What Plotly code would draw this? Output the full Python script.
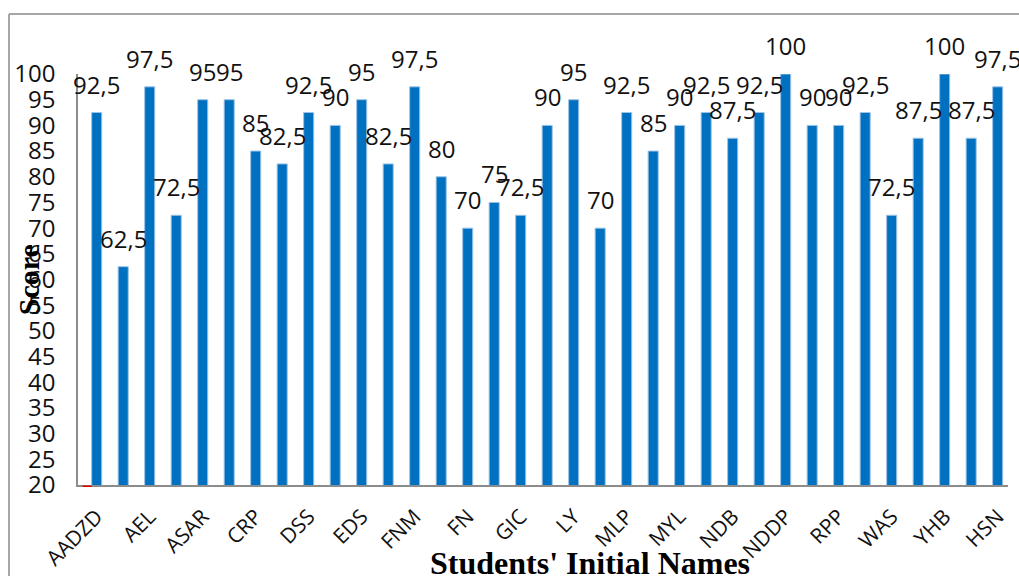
import plotly.graph_objects as go

# Scores for each student, in display order
scores = [92.5, 62.5, 97.5, 72.5, 95, 95, 85, 82.5, 92.5, 90, 95, 82.5,
          97.5, 80, 70, 75, 72.5, 90, 95, 70, 92.5, 85, 90, 92.5, 87.5,
          92.5, 100, 90, 90, 92.5, 72.5, 87.5, 100, 87.5, 97.5]

# Initial names shown under every second bar
tick_labels = ["AADZD", "AEL", "ASAR", "CRP", "DSS", "EDS", "FNM", "FN", "GIC",
               "LY", "MLP", "MYL", "NDB", "NDDP", "RPP", "WAS", "YHB", "HSN"]

y_ticks = list(range(20, 101, 5))

positions = list(range(len(scores)))
label_text = [f"{v:g}".replace(".", ",") for v in scores]

SANS = "Open Sans, Calibri, Carlito, sans-serif"
SERIF = "Liberation Serif, Times New Roman, serif"
AXIS_GRAY = "#8C8C8C"

fig = go.Figure(
    go.Bar(
        x=positions,
        y=scores,
        marker=dict(color="#0070C0", line=dict(color="#9DC3E6", width=1)),
        hoverinfo="x+y",
    )
)

# value labels sit a little above each bar
value_labels = [
    dict(
        x=xi, y=yi, xref="x", yref="y",
        text=t,
        showarrow=False,
        xanchor="center", yanchor="bottom",
        yshift=10,
        font=dict(family=SANS, size=24, color="#111111"),
    )
    for xi, yi, t in zip(positions, scores, label_text)
]

axis_titles = [
    dict(
        text="<b>Students' Initial Names</b>",
        xref="paper", yref="paper",
        x=0.55, y=-0.19,
        xanchor="center", yanchor="middle",
        showarrow=False,
        font=dict(family=SERIF, size=32, color="#000000"),
    ),
    dict(
        text="<b>Score</b>",
        xref="paper", yref="paper",
        x=-0.053, y=0.5,
        xanchor="center", yanchor="middle",
        textangle=-90,
        showarrow=False,
        font=dict(family=SERIF, size=30, color="#000000"),
    ),
]

fig.update_layout(
    width=1019,
    height=576,
    margin=dict(l=78, r=11, t=74, b=91, autoexpand=False),
    paper_bgcolor="white",
    plot_bgcolor="white",
    showlegend=False,
    bargap=0.62,
    xaxis=dict(
        range=[-0.706, 34.39],
        tickmode="array",
        tickvals=positions[::2],
        ticktext=tick_labels,
        tickangle=-45,
        tickfont=dict(family=SANS, size=21, color="#111111"),
        showline=True,
        linecolor=AXIS_GRAY,
        linewidth=2,
        showgrid=False,
        zeroline=False,
        ticks="",
        ticklabelstandoff=9,
        automargin=False,
    ),
    yaxis=dict(
        range=[20, 100],
        tickmode="array",
        tickvals=y_ticks,
        tickfont=dict(family=SANS, size=24, color="#111111"),
        showline=True,
        linecolor=AXIS_GRAY,
        linewidth=1.5,
        showgrid=False,
        zeroline=False,
        ticks="",
        ticklabelstandoff=16,
        automargin=False,
    ),
    annotations=value_labels + axis_titles,
    shapes=[
        # chart frame: top and left edges
        dict(type="line", xref="paper", yref="paper",
             x0=-0.0742, x1=1.02, y0=1.146, y1=1.146,
             line=dict(color="#A6A6A6", width=2)),
        dict(type="line", xref="paper", yref="paper",
             x0=-0.0742, x1=-0.0742, y0=1.146, y1=-0.23,
             line=dict(color="#A6A6A6", width=2)),
        # small red marker at the origin
        dict(type="line", xref="paper", yref="paper",
             x0=0.005, x1=0.0148, y0=-0.003, y1=-0.003,
             line=dict(color="#E00000", width=1.5)),
    ],
)

fig.write_html("out.html")
